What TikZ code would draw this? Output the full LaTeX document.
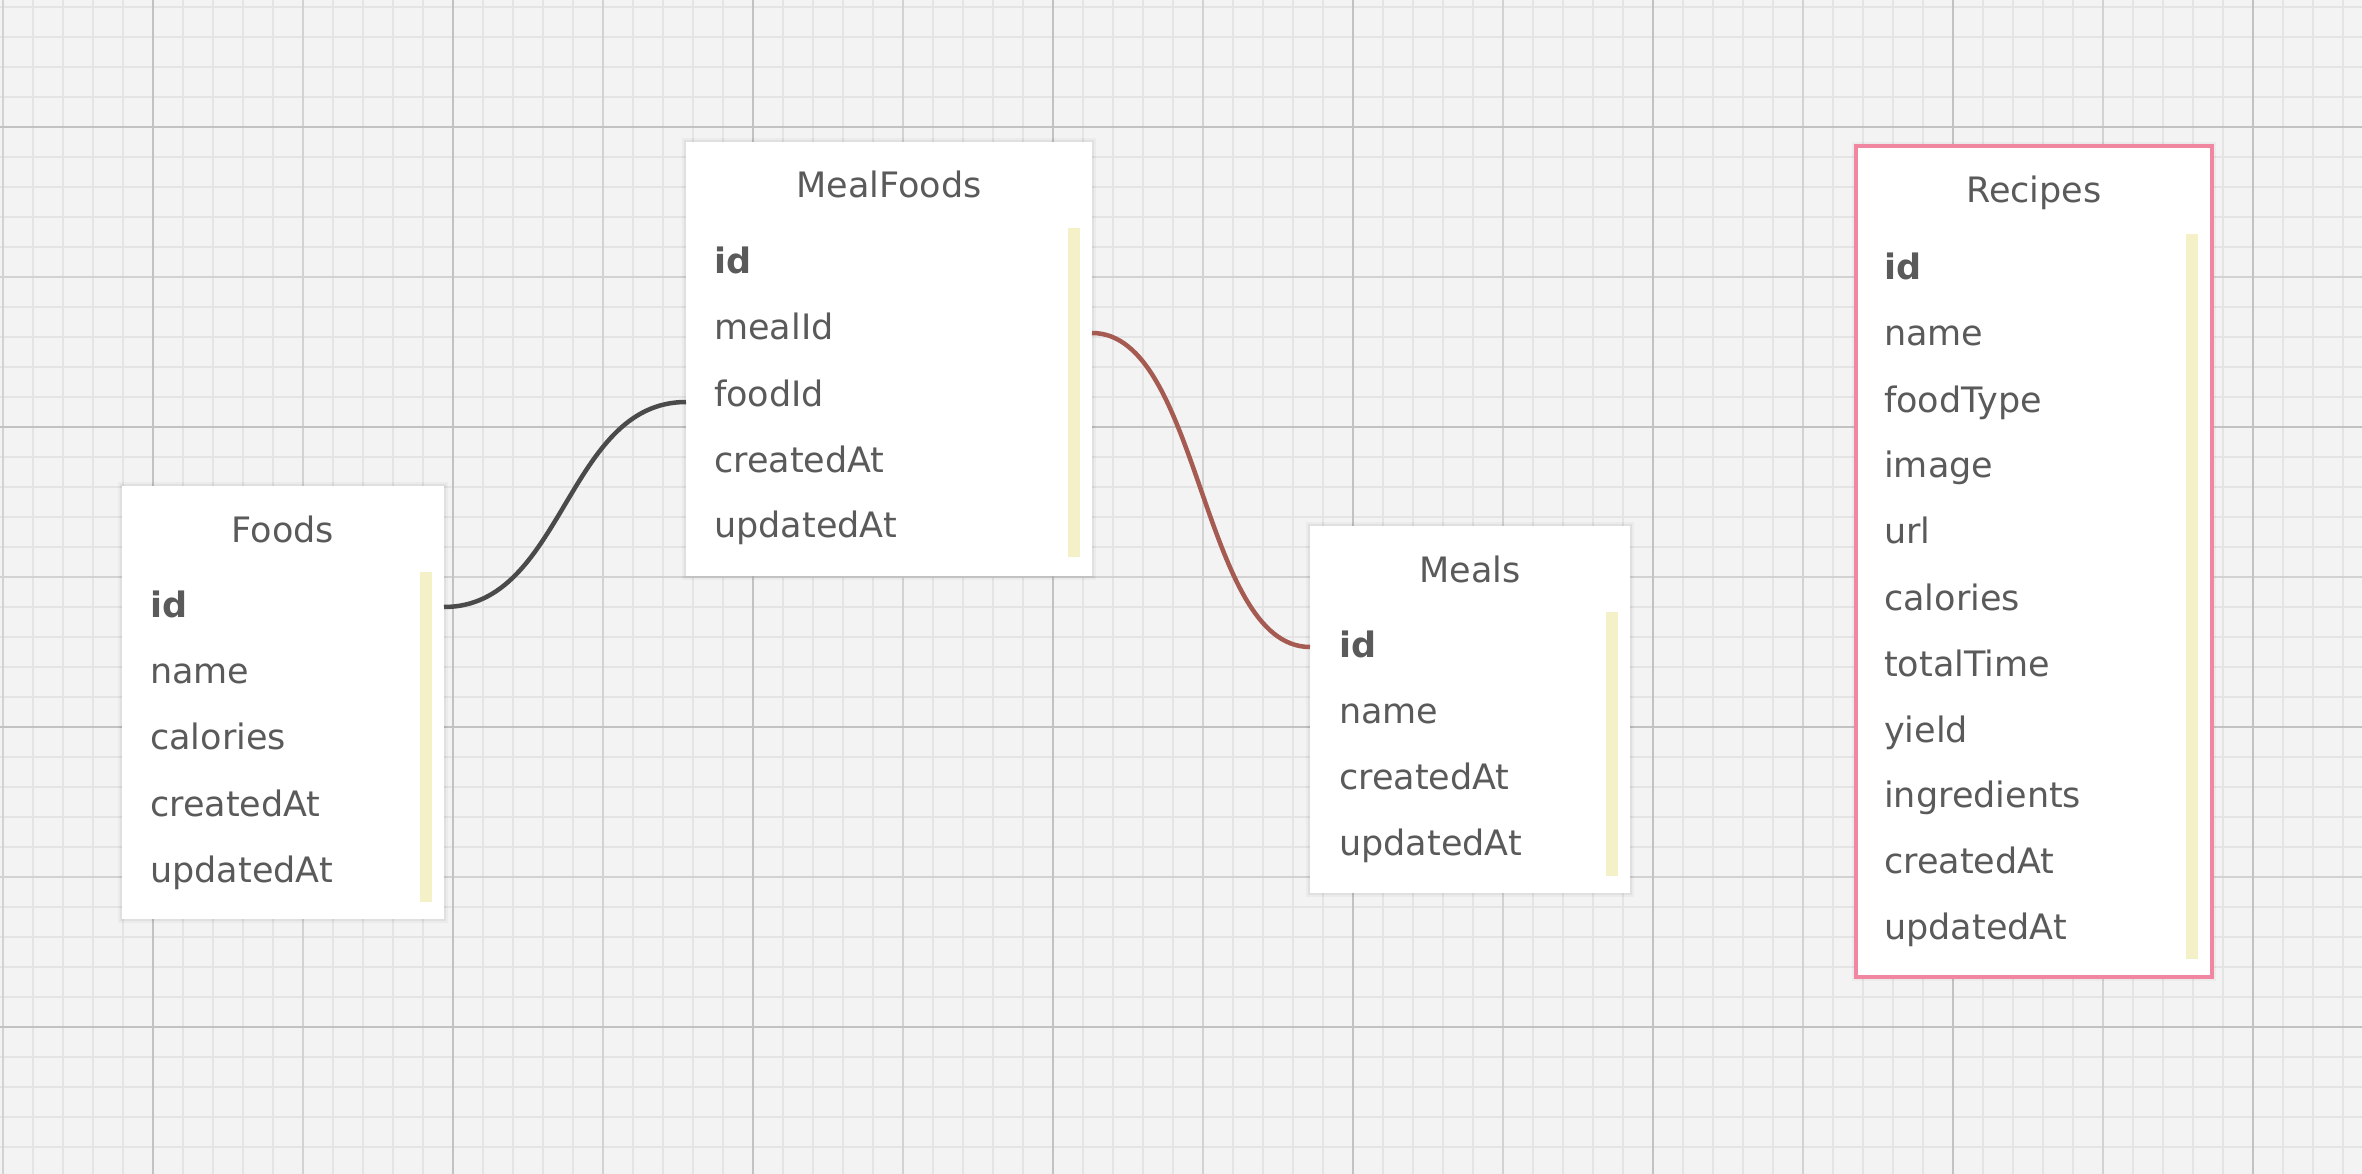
\documentclass[tikz,border=0pt]{standalone}
\usepackage{fontspec}
\setmainfont{DejaVu Sans}
\definecolor{bg}{HTML}{F3F3F3}
\definecolor{gfine}{HTML}{E4E4E4}
\definecolor{gmed}{HTML}{D2D2D2}
\definecolor{gmajor}{HTML}{C2C2C2}
\definecolor{txt}{HTML}{5A5A5A}
\definecolor{barc}{HTML}{F4F1C8}
\definecolor{pinkc}{HTML}{F0869F}
\definecolor{linkdark}{HTML}{4A4A4A}
\definecolor{linkred}{HTML}{A65B52}
\begin{document}
\begin{tikzpicture}[x=1pt,y=-1pt,
  tbl/.style={fill=white, anchor=north west, inner sep=0pt, outer sep=0pt,
    preaction={draw=black, opacity=0.03, line width=8pt},
    preaction={draw=black, opacity=0.045, line width=4pt}},
  ttl/.style={anchor=base, text=txt, inner sep=0pt, font=\fontsize{35}{42}\selectfont},
  fld/.style={anchor=base west, text=txt, inner sep=0pt, font=\fontsize{35}{42}\selectfont},
  ybar/.style={fill=barc, anchor=north west, inner sep=0pt, outer sep=0pt},
  link/.style={line width=4.5pt, line cap=butt},
  finel/.style={gfine, line width=2pt},
  medl/.style={gmed, line width=2.5pt},
  majorl/.style={gmajor, line width=2.5pt}]
\useasboundingbox (0,0) rectangle (2362,1174);
\begin{scope}
\clip (0,0) rectangle (2362,1174);
\fill[bg] (0,0) rectangle (2362,1174);
\foreach \x in {3,33,...,2361} \draw[finel] (\x,0) -- (\x,1174);
\foreach \y in {7,37,...,1173} \draw[finel] (0,\y) -- (2362,\y);
\foreach \x in {3,303,...,2361} \draw[medl] (\x,0) -- (\x,1174);
\foreach \y in {277,577,...,1173} \draw[medl] (0,\y) -- (2362,\y);
\foreach \x in {153,453,...,2361} \draw[majorl] (\x,0) -- (\x,1174);
\foreach \y in {127,427,...,1173} \draw[majorl] (0,\y) -- (2362,\y);
\end{scope}

% Foods
\node[tbl, minimum width=322pt, minimum height=433pt] (foods) at (122,486) {};
\node[ybar, minimum width=12pt, minimum height=330pt] (foodsbar) at (420,572) {};
\node[ttl] (foodsT) at (283,542) {Foods};
\node[fld] (foodsid) at (150,617) {\textbf{id}};
\node[fld] (foodsname) at (150,683) {name};
\node[fld] (foodscal) at (150,749) {calories};
\node[fld] (foodscr) at (150,816) {createdAt};
\node[fld] (foodsup) at (150,882) {updatedAt};

% MealFoods
\node[tbl, minimum width=406pt, minimum height=434pt] (mf) at (686,142) {};
\node[ybar, minimum width=12pt, minimum height=329pt] (mfbar) at (1068,228) {};
\node[ttl] (mfT) at (889,198) {MealFoods};
\node[fld] (mfid) at (714,274) {\textbf{id}};
\node[fld] (mfmealId) at (714,340) {mealId};
\node[fld] (mffoodId) at (714,406) {foodId};
\node[fld] (mfcr) at (714,472) {createdAt};
\node[fld] (mfup) at (714,537) {updatedAt};

% Meals
\node[tbl, minimum width=320pt, minimum height=367pt] (meals) at (1310,526) {};
\node[ybar, minimum width=12pt, minimum height=264pt] (mealsbar) at (1606,612) {};
\node[ttl] (mealsT) at (1470,582) {Meals};
\node[fld] (mealsid) at (1339,657) {\textbf{id}};
\node[fld] (mealsname) at (1339,723) {name};
\node[fld] (mealscr) at (1339,789) {createdAt};
\node[fld] (mealsup) at (1339,855) {updatedAt};

% Recipes
\node[tbl, draw=pinkc, line width=4pt, minimum width=356pt, minimum height=831pt] (rec) at (1856,146) {};
\node[ybar, minimum width=12pt, minimum height=725pt] (recbar) at (2186,234) {};
\node[ttl] (recT) at (2034,203) {Recipes};
\node[fld] (recid) at (1884,280) {\textbf{id}};
\node[fld] (recname) at (1884,345) {name};
\node[fld] (recft) at (1884,412) {foodType};
\node[fld] (recimg) at (1884,477) {image};
\node[fld] (recurl) at (1884,543) {url};
\node[fld] (reccal) at (1884,610) {calories};
\node[fld] (rectt) at (1884,676) {totalTime};
\node[fld] (recyield) at (1884,742) {yield};
\node[fld] (recing) at (1884,807) {ingredients};
\node[fld] (reccr) at (1884,873) {createdAt};
\node[fld] (recup) at (1884,939) {updatedAt};

% connectors
\draw[link, linkdark] ([yshift=10pt]foodsid.base -| foods.east)
  .. controls +(120,0) and +(-120,0) .. ([yshift=4pt]mffoodId.base -| mf.west);
\draw[link, linkred] ([yshift=7pt]mfmealId.base -| mf.east)
  .. controls +(109,0) and +(-109,0) .. ([yshift=10pt]mealsid.base -| meals.west);
\end{tikzpicture}
\end{document}
